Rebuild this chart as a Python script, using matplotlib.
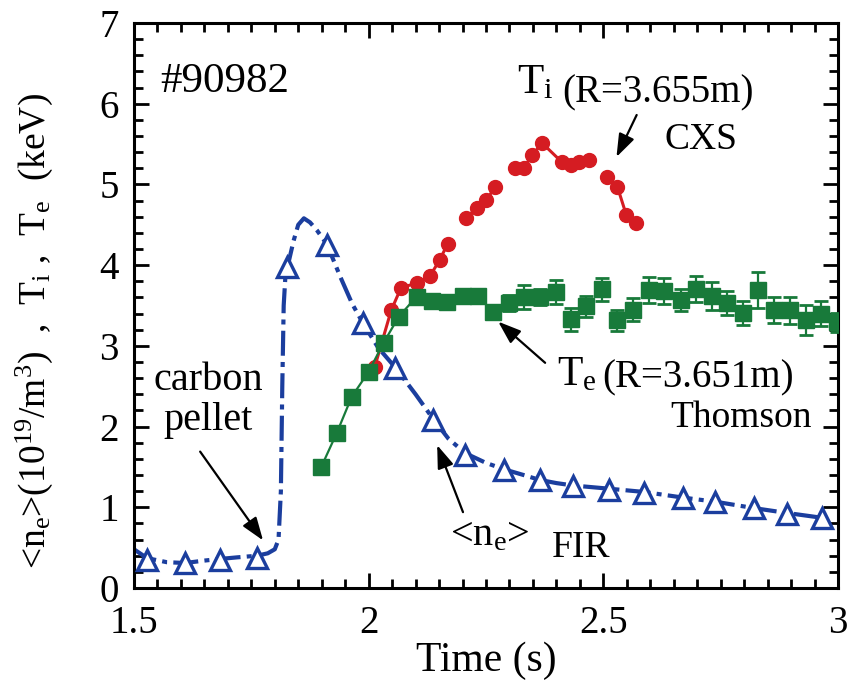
import matplotlib
matplotlib.use("Agg")
import matplotlib.pyplot as plt
from matplotlib.ticker import MultipleLocator

plt.rcParams['font.family'] = 'Liberation Serif'
plt.rcParams['mathtext.fontset'] = 'custom'
plt.rcParams['mathtext.rm'] = 'Liberation Serif'
plt.rcParams['mathtext.it'] = 'Liberation Serif:italic'
plt.rcParams['mathtext.bf'] = 'Liberation Serif:bold'

# line-averaged density, FIR interferometer (markers + trace)
ne_t = [1.528, 1.609, 1.683, 1.762, 1.826, 1.911, 1.987, 2.057, 2.138, 2.206,
        2.289, 2.364, 2.436, 2.513, 2.587, 2.670, 2.738, 2.821, 2.891, 2.966]
ne_v = [0.35, 0.31, 0.35, 0.37, 3.98, 4.25, 3.28, 2.73, 2.08, 1.65,
        1.46, 1.34, 1.26, 1.21, 1.18, 1.12, 1.07, 0.99, 0.92, 0.87]
fir_t = [1.500, 1.528, 1.570, 1.609, 1.650, 1.683, 1.720, 1.762, 1.785, 1.800,
         1.808, 1.813, 1.816, 1.819, 1.823, 1.830, 1.840, 1.850, 1.862, 1.875,
         1.890, 1.911, 1.940, 1.965, 1.987, 2.020, 2.057, 2.100, 2.138, 2.170,
         2.206, 2.250, 2.289, 2.330, 2.364, 2.400, 2.436, 2.513, 2.587, 2.670,
         2.738, 2.821, 2.891, 2.966]
fir_v = [0.48, 0.37, 0.32, 0.31, 0.34, 0.36, 0.38, 0.40, 0.43, 0.48,
         0.60, 1.20, 2.50, 3.50, 3.90, 4.05, 4.30, 4.50, 4.58, 4.53,
         4.43, 4.26, 3.85, 3.52, 3.29, 2.98, 2.73, 2.40, 2.09, 1.85,
         1.67, 1.55, 1.47, 1.40, 1.34, 1.30, 1.27, 1.23, 1.19, 1.12,
         1.07, 0.99, 0.93, 0.87]

# ion temperature, CXS
ti_t = [2.013, 2.048, 2.069, 2.104, 2.130, 2.151, 2.168, 2.208, 2.230, 2.251,
        2.270, 2.311, 2.330, 2.349, 2.370, 2.411, 2.432, 2.449, 2.470, 2.508,
        2.530, 2.549, 2.570]
ti_v = [2.74, 3.44, 3.72, 3.78, 3.86, 4.06, 4.26, 4.58, 4.71, 4.81,
        4.97, 5.20, 5.20, 5.37, 5.51, 5.28, 5.24, 5.28, 5.30, 5.09,
        4.97, 4.62, 4.52]
ti_segments = [(0, 7), (7, 11), (11, 19), (19, 23)]

# electron temperature, Thomson scattering
te_t = [1.899, 1.932, 1.964, 2.000, 2.032, 2.064, 2.102, 2.134, 2.166, 2.200,
        2.232, 2.264, 2.298, 2.332, 2.366, 2.399, 2.432, 2.464, 2.498, 2.530,
        2.564, 2.598, 2.630, 2.666, 2.698, 2.732, 2.764, 2.798, 2.830, 2.864,
        2.898, 2.932, 2.964, 2.998]
te_v = [1.50, 1.92, 2.37, 2.68, 3.04, 3.36, 3.61, 3.55, 3.54, 3.62,
        3.62, 3.42, 3.53, 3.61, 3.60, 3.67, 3.33, 3.49, 3.70, 3.32,
        3.45, 3.69, 3.68, 3.57, 3.70, 3.62, 3.53, 3.41, 3.69, 3.44,
        3.44, 3.32, 3.40, 3.29]
te_err = [0.06, 0.06, 0.06, 0.06, 0.06, 0.06, 0.06, 0.06, 0.06, 0.06,
          0.06, 0.08, 0.10, 0.15, 0.10, 0.15, 0.14, 0.13, 0.14, 0.13,
          0.14, 0.16, 0.16, 0.14, 0.16, 0.17, 0.15, 0.15, 0.22, 0.16,
          0.17, 0.19, 0.15, 0.12]
te_joined = 8

blue = '#1b3e9e'
red = '#d51c22'
green = '#187a3a'

fig = plt.figure(figsize=(8.56, 6.94), dpi=100)
ax = fig.add_axes([0.1565, 0.1527, 0.8225, 0.8142])

ax.plot(fir_t, fir_v, color=blue, lw=3, linestyle=(0, (6, 1.5, 1.2, 1.5)), zorder=2)
ax.plot(ne_t, ne_v, linestyle='none', marker='^', ms=14, mfc='white',
        mec=blue, mew=2.4, zorder=3)

for i0, i1 in ti_segments:
    ax.plot(ti_t[i0:i1], ti_v[i0:i1], color=red, lw=2.2, zorder=4)
ax.plot(ti_t, ti_v, linestyle='none', marker='o', ms=10, color=red, zorder=4)

ax.plot(te_t[:te_joined], te_v[:te_joined], color=green, lw=1.6, zorder=5)
ax.errorbar(te_t, te_v, yerr=te_err, fmt='s', ms=11.5, color=green,
            ecolor=green, elinewidth=1.6, capsize=5, capthick=2, zorder=5)

ax.set_xlim(1.5, 3)
ax.set_ylim(0, 7)
ax.xaxis.set_major_locator(MultipleLocator(0.5))
ax.xaxis.set_minor_locator(MultipleLocator(0.05))
ax.yaxis.set_major_locator(MultipleLocator(1))
ax.yaxis.set_minor_locator(MultipleLocator(0.2))
ax.xaxis.set_major_formatter(lambda v, p: f'{v:g}')
ax.tick_params(which='both', direction='in', top=True, right=True, width=2,
               labelsize=28)
ax.tick_params(which='major', length=11)
ax.tick_params(which='minor', length=6.5)
ax.tick_params(axis='x', which='major', pad=12)
ax.tick_params(axis='y', which='major', pad=11)
for s in ax.spines.values():
    s.set_linewidth(2.2)

ax.set_xlabel('Time (s)', fontsize=30, labelpad=0)
ax.set_ylabel(r'<n$_\mathrm{e}$>(10$^{19}$/m$^3$)  ,  T$_\mathrm{i}$ ,  T$_\mathrm{e}$  (keV)',
              fontsize=27)
ax.yaxis.set_label_coords(-0.112, 0.455)

ax.text(1.694, 6.27, '#90982', fontsize=31, ha='center', va='center')

ax.text(1.658, 2.45, 'carbon', fontsize=29, ha='center', va='baseline')
ax.text(1.658, 1.96, 'pellet', fontsize=29, ha='center', va='baseline')

ax.text(2.316, 6.13, r'T$_\mathrm{i}$', fontsize=31, ha='left', va='baseline')
ax.text(2.413, 6.01, '(R=3.655m)', fontsize=28, ha='left', va='baseline')
ax.text(2.708, 5.55, 'CXS', fontsize=27, ha='center', va='center')

ax.text(2.401, 2.515, r'T$_\mathrm{e}$', fontsize=30, ha='left', va='baseline')
ax.text(2.497, 2.49, '(R=3.651m)', fontsize=28, ha='left', va='baseline')
ax.text(2.642, 2.0, 'Thomson', fontsize=27, ha='left', va='baseline')

ax.text(2.173, 0.53, r'<n$_\mathrm{e}$>', fontsize=29, ha='left', va='baseline')
ax.text(2.39, 0.38, 'FIR', fontsize=27, ha='left', va='baseline')

arrow = dict(arrowstyle='-|>,head_length=0.7,head_width=0.25', lw=1.6,
             color='black', shrinkA=0, shrinkB=0, mutation_scale=20)
ax.annotate('', xy=(2.528, 5.34), xytext=(2.571, 5.86), arrowprops=arrow)
ax.annotate('', xy=(2.276, 3.30), xytext=(2.376, 2.79), arrowprops=arrow)
ax.annotate('', xy=(1.775, 0.59), xytext=(1.641, 1.69), arrowprops=arrow)
ax.annotate('', xy=(2.146, 1.77), xytext=(2.201, 0.94), arrowprops=arrow)

fig.savefig('out.png', dpi=100)
